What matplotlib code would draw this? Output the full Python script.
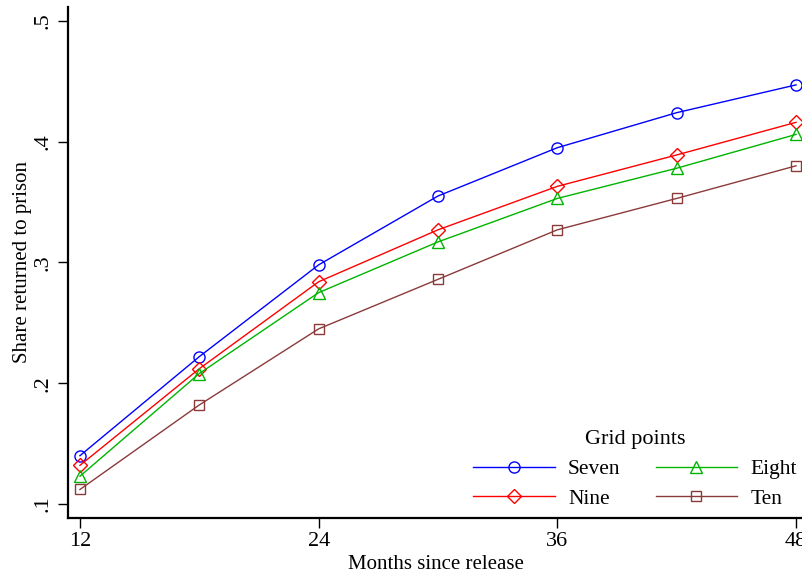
import matplotlib
matplotlib.use("Agg")
import matplotlib.pyplot as plt

months = [12, 18, 24, 30, 36, 42, 48]
seven = [0.140, 0.222, 0.298, 0.355, 0.395, 0.424, 0.447]
eight = [0.123, 0.208, 0.275, 0.317, 0.353, 0.378, 0.406]
nine = [0.132, 0.212, 0.284, 0.327, 0.363, 0.389, 0.416]
ten = [0.112, 0.182, 0.245, 0.286, 0.327, 0.353, 0.380]
xticks = [12, 24, 36, 48]
yticks = [0.1, 0.2, 0.3, 0.4, 0.5]
ytick_labels = [".1", ".2", ".3", ".4", ".5"]

plt.rcParams['font.family'] = ['Liberation Serif', 'DejaVu Serif']

fig = plt.figure(figsize=(8.03, 5.73), dpi=100)
ax = fig.add_axes([0.0847, 0.096, 0.9153, 0.892])

style = dict(lw=1.0, markersize=8, markerfacecolor='none', markeredgewidth=1.0)
h7, = ax.plot(months, seven, color='#0000ff', marker='o', label='Seven', **style)
h9, = ax.plot(months, nine, color='#ff0000', marker='D', label='Nine', **dict(style, markersize=7))
h8, = ax.plot(months, eight, color='#00b400', marker='^', label='Eight', **style)
h10, = ax.plot(months, ten, color='#8b3a3a', marker='s', label='Ten', **dict(style, markersize=7))

ax.set_xlim(11.4, 48.35)
ax.set_ylim(0.0884, 0.5116)
ax.set_xticks(xticks)
ax.set_xticklabels([str(x) for x in xticks])
ax.set_yticks(yticks)
ax.set_yticklabels(ytick_labels, rotation=90, va='center')
ax.tick_params(axis='both', direction='out', length=7, width=1.0, labelsize=16, colors='black')
ax.tick_params(axis='x', pad=3)
ax.tick_params(axis='y', pad=4)
for s in ['top', 'right']:
    ax.spines[s].set_visible(False)
for s in ['left', 'bottom']:
    ax.spines[s].set_linewidth(1.6)

ax.set_xlabel('Months since release', fontsize=15, labelpad=3)
ax.set_ylabel('Share returned to prison', fontsize=15, labelpad=1)

leg = ax.legend(handles=[h7, h9, h8, h10], ncol=2, title='Grid points',
                frameon=False, fontsize=15.5, title_fontsize=16,
                handlelength=3.8, columnspacing=1.63, handletextpad=0.6,
                labelspacing=0.45, loc='lower right', borderpad=0.3,
                bbox_to_anchor=(1.015, -0.016), bbox_transform=ax.transAxes)

fig.savefig('out.png', dpi=100)
